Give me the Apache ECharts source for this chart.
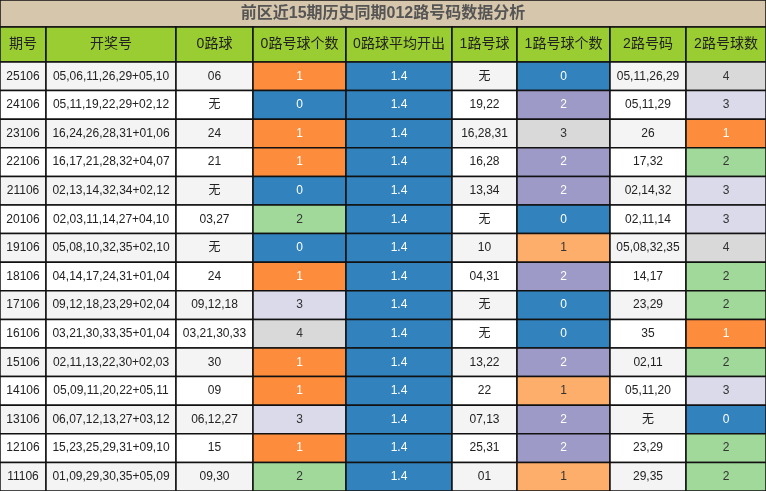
<!DOCTYPE html><html><head><meta charset="utf-8"><script src="https://cdn.jsdelivr.net/npm/echarts@6/dist/echarts.min.js"></script>
<style>html,body{margin:0;padding:0;background:#fff}#c{width:766px;height:491px}</style></head><body><div id="c"></div><script>
const title='前区近15期历史同期012路号码数据分析';
const headers=['期号','开奖号','0路球','0路号球个数','0路球平均开出','1路号球','1路号球个数','2路号码','2路号球数'];
const periods=['25106','24106','23106','22106','21106','20106','19106','18106','17106','16106','15106','14106','13106','12106','11106'];
const draws=['05,06,11,26,29+05,10','05,11,19,22,29+02,12','16,24,26,28,31+01,06','16,17,21,28,32+04,07','02,13,14,32,34+02,12','02,03,11,14,27+04,10','05,08,10,32,35+02,10','04,14,17,24,31+01,04','09,12,18,23,29+02,04','03,21,30,33,35+01,04','02,11,13,22,30+02,03','05,09,11,20,22+05,11','06,07,12,13,27+03,12','15,23,25,29,31+09,10','01,09,29,30,35+05,09'];
const zero=['06','无','24','21','无','03,27','无','24','09,12,18','03,21,30,33','30','09','06,12,27','15','09,30'];
const zeroCnt=[1,0,1,1,0,2,0,1,3,4,1,1,3,1,2];
const zeroAvg=Array(15).fill('1.4');
const one=['无','19,22','16,28,31','16,28','13,34','无','10','04,31','无','无','13,22','22','07,13','25,31','01'];
const oneCnt=[0,2,3,2,2,0,1,2,0,0,2,1,2,2,1];
const two=['05,11,26,29','05,11,29','26','17,32','02,14,32','02,11,14','05,08,32,35','14,17','23,29','35','02,11','05,11,20','无','23,29','29,35'];
const twoCnt=[4,3,1,2,3,3,4,2,2,1,2,3,0,2,2];

const colX=[0,46,176,253,346,452,517,610,686,766];
const titleH=27, headH=35, rowTop=62, rowH=(491-62)/15;
const cntColor={0:['#3182bd','#fff'],1:['#fd8d3c','#fff'],2:['#a1d99b','#333'],3:['#dadaeb','#333'],4:['#d9d9d9','#333']};
const oneColor={0:['#3182bd','#fff'],1:['#fdae6b','#333'],2:['#9e9ac8','#fff'],3:['#d9d9d9','#333']};
const cells=[];
cells.push({value:[-1,-1],t:title});
headers.forEach((h,c)=>cells.push({value:[c,0],t:h,k:'h'}));
periods.forEach((p,r)=>{
  const row=[p,draws[r],zero[r],zeroCnt[r],zeroAvg[r],one[r],oneCnt[r],two[r],twoCnt[r]];
  row.forEach((v,c)=>{
    let bg=r%2===0?'#f4f4f4':'#ffffff', fg='#222';
    if(c===3||c===8){[bg,fg]=cntColor[v];}
    else if(c===6){[bg,fg]=oneColor[v];}
    else if(c===4){bg='#3182bd';fg='#fff';}
    cells.push({value:[c,r+1],t:String(v),bg,fg});
  });
});
const chart=echarts.init(document.getElementById('c'),null,{renderer:'canvas'});
chart.setOption({animation:false,
 grid:{left:0,right:0,top:0,bottom:0},
 xAxis:{type:'value',min:0,max:766,show:false},
 yAxis:{type:'value',min:0,max:491,inverse:true,show:false},
 series:[{type:'custom',data:cells,renderItem:(params,api)=>{
   const d=cells[params.dataIndex];
   const c=d.value[0], r=d.value[1];
   let x0,x1,y0,y1,bg,fg,font;
   if(c<0){x0=0;x1=766;y0=0;y1=titleH;bg='#d6c6ab';fg='#555';font='bold 16px "Liberation Sans","Noto Sans CJK SC"';}
   else if(r===0){x0=colX[c];x1=colX[c+1];y0=titleH;y1=rowTop;bg='#9acd32';fg='#222';font='14px "Liberation Sans","Noto Sans CJK SC"';}
   else{x0=colX[c];x1=colX[c+1];y0=rowTop+(r-1)*rowH;y1=y0+rowH;bg=d.bg;fg=d.fg;font='12px "Liberation Sans","Noto Sans CJK SC"';}
   const p0=api.coord([x0,y0]),p1=api.coord([x1,y1]);
   return {type:'group',children:[
     {type:'rect',shape:{x:p0[0],y:p0[1],width:p1[0]-p0[0],height:p1[1]-p0[1]},style:{fill:bg,stroke:'#111',lineWidth:1.5}},
     {type:'text',style:{text:d.t,x:(p0[0]+p1[0])/2,y:(p0[1]+p1[1])/2,align:'center',verticalAlign:'middle',fill:fg,font}}
   ]};
 }}]});
</script></body></html>
